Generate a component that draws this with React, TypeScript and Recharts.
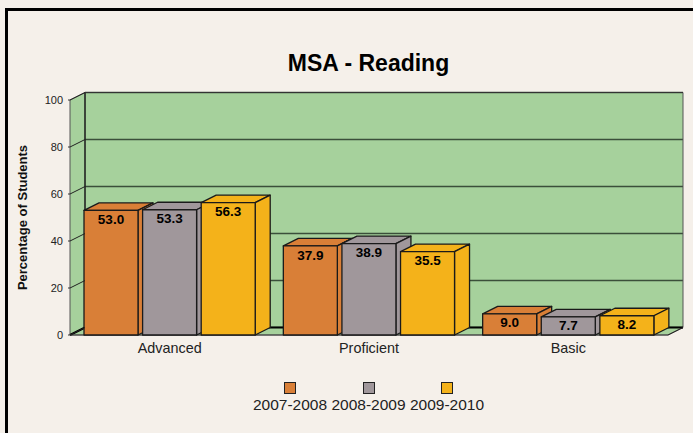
import { BarChart, Bar, XAxis, YAxis, CartesianGrid, Legend, LabelList, Label, usePlotArea } from "recharts";

const categories = ["Advanced", "Proficient", "Basic"];
const values0708 = [53.0, 37.9, 9.0];
const values0809 = [53.3, 38.9, 7.7];
const values0910 = [56.3, 35.5, 8.2];
const yTicks = [0, 20, 40, 60, 80, 100];

const data = categories.map((name, i) => ({
  name,
  "2007-2008": values0708[i],
  "2008-2009": values0809[i],
  "2009-2010": values0910[i],
}));

const BG = "#f5f0ea";
const WALL = "#a6d19c";
const FONT = "'Liberation Sans', Arial, sans-serif";
const DX = 15;
const DY = 7.5;

function Backdrop() {
  const plot = usePlotArea();
  if (!plot) return null;
  const { x, y, width, height } = plot;
  const r = x + width;
  const b = y + height;
  return (
    <g>
      <text x={368.5} y={71} textAnchor="middle" fontFamily={FONT} fontSize={23} fontWeight="bold" fill="#000">
        MSA - Reading
      </text>
      <polygon points={`${x},${y} ${x + DX},${y - DY} ${x + DX},${b - DY} ${x},${b}`} fill={WALL} stroke="#555" />
      <polygon points={`${x},${b} ${x + DX},${b - DY} ${r + DX},${b - DY} ${r},${b}`} fill={WALL} stroke="#555" />
      <line x1={r + DX} y1={y - DY} x2={r + DX} y2={b - DY} stroke="#555" />
      <line x1={x + DX} y1={y - DY} x2={x + DX} y2={b - DY} stroke="#111" strokeWidth={1.2} />
      <line x1={x + DX} y1={y - DY} x2={r + DX} y2={y - DY} stroke="#333" strokeWidth={1.2} />
      <line x1={x + DX} y1={b - DY} x2={r + DX} y2={b - DY} stroke="#000" strokeWidth={2} />
      <line x1={x} y1={b} x2={x + DX} y2={b - DY} stroke="#000" strokeWidth={2} />
      <line x1={r} y1={b} x2={r + DX} y2={b - DY} stroke="#222" />
      <line x1={x} y1={b} x2={r} y2={b} stroke="#444" strokeWidth={1.2} />
    </g>
  );
}

function Box3D(props: any) {
  const { x, y, width, height, fill } = props;
  const r = x + width;
  const b = y + height;
  return (
    <g stroke="#1a1a1a" strokeWidth={1.3} strokeLinejoin="round">
      <polygon points={`${x},${y} ${x + DX},${y - DY} ${r + DX},${y - DY} ${r},${y}`} fill={fill} />
      <polygon points={`${r},${y} ${r + DX},${y - DY} ${r + DX},${b - DY} ${r},${b}`} fill={fill} />
      <rect x={x} y={y} width={width} height={height} fill={fill} />
    </g>
  );
}

function YTick(props: any) {
  const { x, y, payload } = props;
  return (
    <g>
      <line x1={x + 6} y1={y} x2={x + 8} y2={y} stroke="#333" />
      <line x1={x + 8} y1={y} x2={x + 8 + DX} y2={y - DY} stroke="#222" />
      <text x={x + 1} y={y + 4} textAnchor="end" fontFamily={FONT} fontSize={11} fill="#222">
        {payload.value}
      </text>
    </g>
  );
}

function GridLine(props: any) {
  const { x1, x2, y1 } = props;
  return <line x1={x1} x2={x2} y1={y1 - DY} y2={y1 - DY} stroke="#3b4f3a" strokeWidth={1.5} />;
}

function LegendRow(props: any) {
  const items = props.payload || [];
  return (
    <div style={{ display: "flex", justifyContent: "center", fontFamily: FONT, fontSize: 15.5, color: "#222" }}>
      {items.map((it: any) => (
        <div key={it.value} style={{ width: 78.5, textAlign: "center", lineHeight: "18px" }}>
          <div style={{ width: 10, height: 10, margin: "0 auto 2px", background: it.color, border: "1px solid #222" }} />
          {it.value}
        </div>
      ))}
    </div>
  );
}

const labelText = (v: any) => Number(v).toFixed(1);
const labelStyle = { fontFamily: FONT, fontSize: 13.5, fontWeight: "bold", fill: "#000" };

export default function App() {
  return (
    <div style={{ position: "fixed", left: 0, top: 0, width: 693, height: 433, background: BG, overflow: "hidden" }}>
      <div style={{ position: "absolute", left: 5, top: 8, width: 700, height: 440, borderLeft: "3px solid #000", borderTop: "3px solid #000" }} />
      <div style={{ position: "absolute", left: 0, top: 0 }}>
        <BarChart
          width={693}
          height={433}
          data={data}
          margin={{ top: 100, right: 25, bottom: 68, left: 10 }}
          barSize={54}
          barGap={4.6}
        >
          <Backdrop />
          <CartesianGrid
            x={85}
            y={92.5}
            width={598}
            height={235}
            fill={WALL}
            fillOpacity={1}
            vertical={false}
            horizontal={(p: any) => <GridLine {...p} key={p.key} />}
          />
          <XAxis
            dataKey="name"
            axisLine={false}
            tickLine={false}
            height={30}
            tick={{ fontFamily: FONT, fontSize: 14.4, fill: "#222" }}
          />
          <YAxis
            width={60}
            domain={[0, 100]}
            ticks={yTicks}
            axisLine={false}
            tickLine={false}
            tick={<YTick />}
          >
            <Label
              value="Percentage of Students"
              angle={-90}
              position="insideLeft"
              offset={12}
              style={{ fontFamily: FONT, fontSize: 13, fontWeight: "bold", fill: "#111", textAnchor: "middle" }}
            />
          </YAxis>
          <Legend
            content={<LegendRow />}
            layout="horizontal"
            verticalAlign="middle"
            align="center"
            wrapperStyle={{ left: 22, width: 693, top: 382, bottom: "auto" }}
          />
          <Bar dataKey="2007-2008" fill="#d97f37" shape={<Box3D />} isAnimationActive={false}>
            <LabelList dataKey="2007-2008" position="insideTop" offset={4} formatter={labelText} style={labelStyle} />
          </Bar>
          <Bar dataKey="2008-2009" fill="#a0979b" shape={<Box3D />} isAnimationActive={false}>
            <LabelList dataKey="2008-2009" position="insideTop" offset={4} formatter={labelText} style={labelStyle} />
          </Bar>
          <Bar dataKey="2009-2010" fill="#f4b21a" shape={<Box3D />} isAnimationActive={false}>
            <LabelList dataKey="2009-2010" position="insideTop" offset={4} formatter={labelText} style={labelStyle} />
          </Bar>
        </BarChart>
      </div>
    </div>
  );
}
